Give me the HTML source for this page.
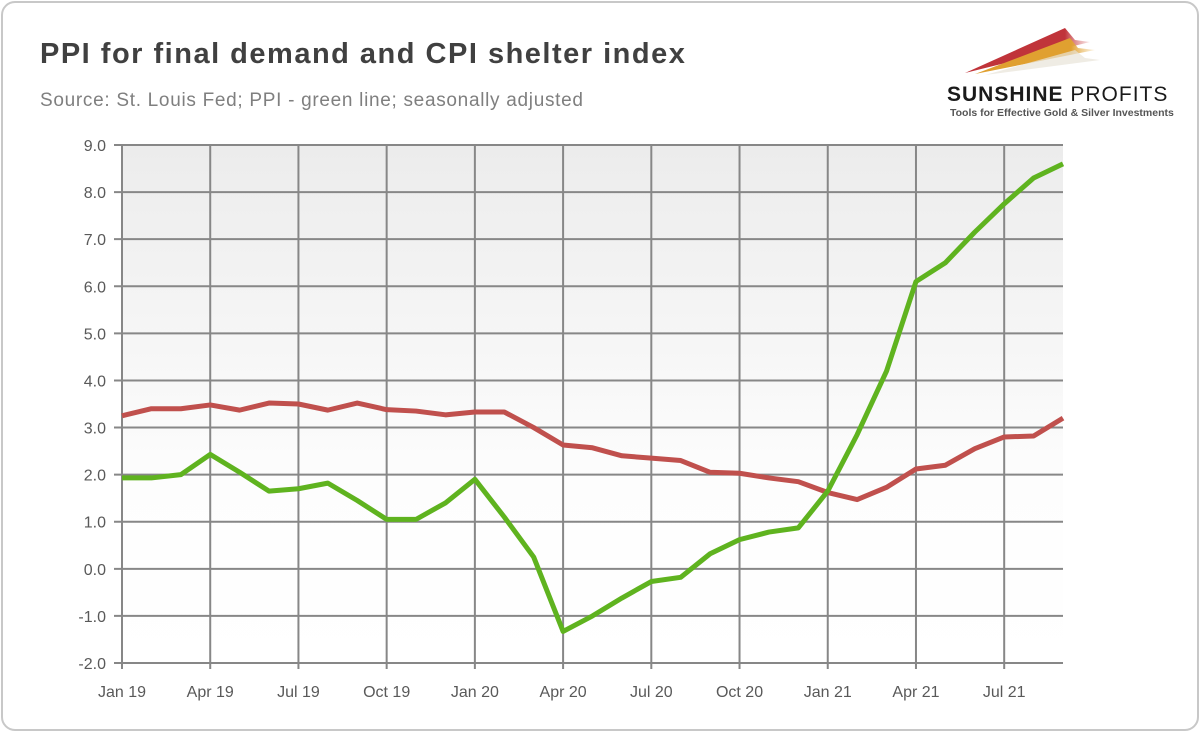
<!DOCTYPE html>
<html><head><meta charset="utf-8"><style>
body{margin:0;background:#fff;font-family:"Liberation Sans",sans-serif;}
#card{position:absolute;left:1px;top:1px;width:1194px;height:726px;border:2px solid #c8c8c8;border-radius:14px;background:#fff;}
</style></head><body>
<div id="card"></div>
<svg width="1200" height="732" style="position:absolute;left:0;top:0">
<defs><linearGradient id="bg" x1="0" y1="0" x2="0" y2="1"><stop offset="0" stop-color="#ececec"/><stop offset="0.65" stop-color="#fdfdfd"/><stop offset="1" stop-color="#ffffff"/></linearGradient>
<linearGradient id="fadeR" x1="0" x2="1"><stop offset="0" stop-color="#c0343a"/><stop offset="0.8" stop-color="#c0343a"/><stop offset="1" stop-color="#e8a0a0" stop-opacity="0.3"/></linearGradient>
<linearGradient id="fadeY" x1="0" x2="1"><stop offset="0" stop-color="#e0a030"/><stop offset="0.8" stop-color="#e0a030"/><stop offset="1" stop-color="#f0d090" stop-opacity="0.3"/></linearGradient></defs>
<text x="40" y="63" font-size="29" letter-spacing="1.5" font-weight="bold" fill="#404040">PPI for final demand and CPI shelter index</text>
<text x="40" y="106" font-size="19" letter-spacing="0.7" fill="#7f7f7f">Source: St. Louis Fed; PPI - green line; seasonally adjusted</text>
<g>
<polygon points="965,73 1065,28 1075,40 1090,42" fill="url(#fadeR)"/>
<polygon points="975,74 1070,38 1078,48 1095,50" fill="url(#fadeY)"/>
<polygon points="985,75 1075,50 1085,58 1100,60" fill="#e8e4d8" opacity="0.7"/>
<text x="947" y="101" font-size="21" letter-spacing="1" font-weight="bold" fill="#1a1a1a">SUNSHINE <tspan font-weight="normal">PROFITS</tspan></text>
<text x="950" y="116" font-size="10.5" font-weight="bold" fill="#555">Tools for Effective Gold &amp; Silver Investments</text>
</g>
<g id="plot"></g>
</svg>
<script>
const months=['Jan 19','Feb 19','Mar 19','Apr 19','May 19','Jun 19','Jul 19','Aug 19','Sep 19','Oct 19','Nov 19','Dec 19','Jan 20','Feb 20','Mar 20','Apr 20','May 20','Jun 20','Jul 20','Aug 20','Sep 20','Oct 20','Nov 20','Dec 20','Jan 21','Feb 21','Mar 21','Apr 21','May 21','Jun 21','Jul 21','Aug 21','Sep 21'];
const ppi=[1.93,1.93,2.0,2.43,2.05,1.65,1.7,1.82,1.45,1.05,1.05,1.4,1.9,1.1,0.25,-1.33,-1.0,-0.62,-0.27,-0.18,0.32,0.62,0.78,0.87,1.65,2.85,4.2,6.1,6.5,7.15,7.75,8.3,8.6];
const shelter=[3.25,3.4,3.4,3.48,3.37,3.52,3.5,3.37,3.52,3.38,3.35,3.27,3.33,3.33,3.0,2.63,2.57,2.4,2.35,2.3,2.05,2.03,1.93,1.85,1.62,1.47,1.73,2.12,2.2,2.55,2.8,2.82,3.2];
const yTicks=[-2,-1,0,1,2,3,4,5,6,7,8,9];
const xLabels=['Jan 19','Apr 19','Jul 19','Oct 19','Jan 20','Apr 20','Jul 20','Oct 20','Jan 21','Apr 21','Jul 21'];
const X0=122,X1=1063,Y0=663,Y1=145,ymin=-2,ymax=9;
const xs=i=>X0+(X1-X0)*i/(months.length-1);
const ys=v=>Y0-(v-ymin)/(ymax-ymin)*(Y0-Y1);
const NS='http://www.w3.org/2000/svg',g=document.getElementById('plot');
function mk(t,a,p){const e=document.createElementNS(NS,t);for(const k in a)e.setAttribute(k,a[k]);(p||g).appendChild(e);return e;}
const bg=mk('rect',{x:X0,y:Y1,width:X1-X0,height:Y0-Y1,fill:'url(#bg)'});


yTicks.forEach(v=>{
 const l=mk('line',{x1:X0-8,x2:X1,y1:ys(v),y2:ys(v),stroke:'#878787','stroke-width':2});
 
 
 const t=mk('text',{x:X0-16,y:ys(v)+6,'text-anchor':'end','font-size':16,fill:'#595959'});
 t.textContent=v.toFixed(1);
 
 
});
xLabels.forEach(lb=>{
 const i=months.indexOf(lb),x=xs(i);
 const l=mk('line',{x1:x,x2:x,y1:Y1,y2:Y0+6,stroke:'#878787','stroke-width':2});
 
 
 const t=mk('text',{x:x,y:Y0+34,'text-anchor':'middle','font-size':16,fill:'#595959'});
 t.textContent=lb;
 
 
});
function line(d,c,n){
 const p=mk('polyline',{points:d.map((v,i)=>xs(i)+','+ys(v)).join(' '),fill:'none',stroke:c,'stroke-width':5,'stroke-linejoin':'round'});
 
 
}
line(shelter,'#c0504d','cpi-shelter-line');
line(ppi,'#5fb31f','ppi-line');
</script>
</body></html>
